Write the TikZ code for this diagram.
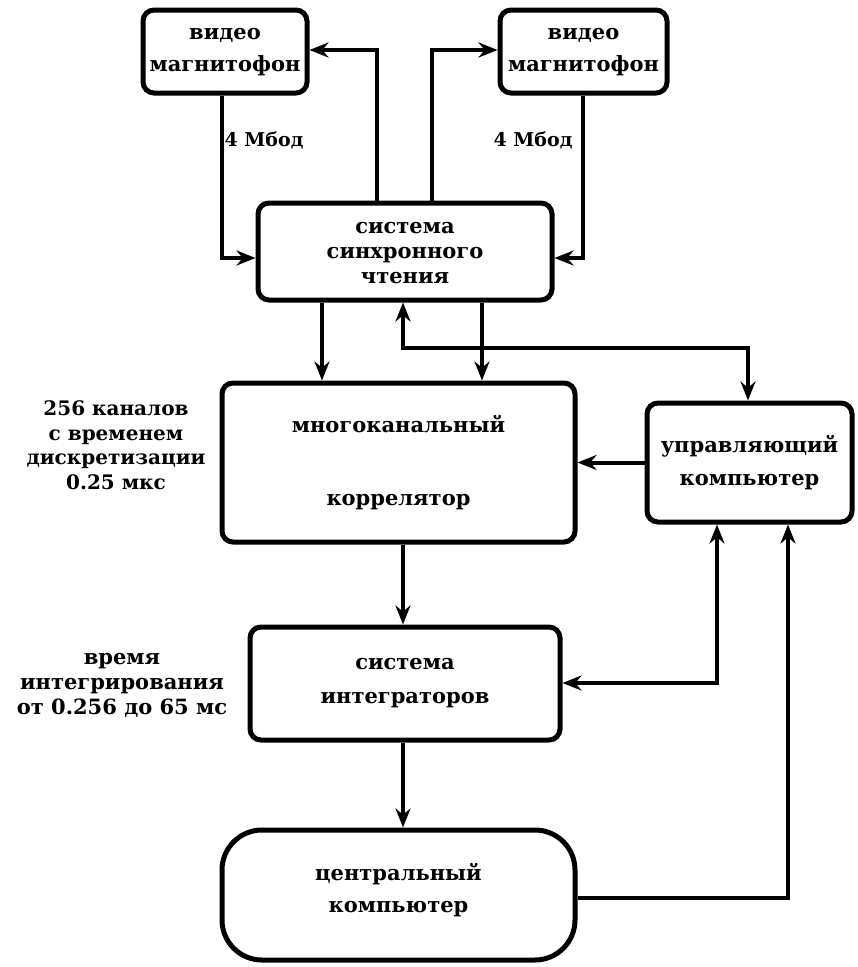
\documentclass[tikz,border=0pt]{standalone}
\usepackage{fontspec}
\setmainfont{DejaVu Serif}
\usetikzlibrary{arrows.meta}
\begin{document}
\begin{tikzpicture}[x=1pt,y=-1pt,
  txt/.style={font=\bfseries\fontsize{21}{32}\selectfont,align=center},
  box/.style={txt,draw,line width=5pt,rounded corners=11pt,inner sep=0pt},
  conn/.style={line width=4pt,-{Stealth[length=19pt,width=15pt]}},
  bconn/.style={line width=4pt,{Stealth[length=19pt,width=15pt]}-{Stealth[length=19pt,width=15pt]}}]
\useasboundingbox (0,0) rectangle (858,967);
% boxes
\node[box,minimum width=164pt,minimum height=83pt] (vcrL) at (225,51.5) {\mbox{}\\[-20pt]видео\\магнитофон};
\node[box,minimum width=167pt,minimum height=83pt] (vcrR) at (583.5,51.5) {\mbox{}\\[-20pt]видео\\магнитофон};
\node[box,minimum width=294pt,minimum height=97pt,font=\bfseries\fontsize{21}{25}\selectfont] (sync) at (405,251.5) {\mbox{}\\[-10pt]система\\синхронного\\чтения};
\node[box,minimum width=353pt,minimum height=159pt] (corr) at (398.5,462.5) {многоканальный\\[41pt]коррелятор};
\node[box,minimum width=205pt,minimum height=119pt,font=\bfseries\fontsize{21}{33}\selectfont] (ctrl) at (749.5,462.5) {управляющий\\компьютер};
\node[box,minimum width=310pt,minimum height=113pt,font=\bfseries\fontsize{21}{34}\selectfont] (integ) at (405,683.5) {система\\интеграторов};
\node[box,minimum width=353pt,minimum height=130pt,rounded corners=40pt,font=\bfseries\fontsize{21}{32}\selectfont] (central) at (398.5,895) {\mbox{}\\[-24pt]центральный\\компьютер};
% labels
\node[txt,font=\bfseries\fontsize{19}{25}\selectfont] (l1) at (264,140) {4 Мбод};
\node[txt,font=\bfseries\fontsize{19}{25}\selectfont] (l2) at (533,140) {4 Мбод};
\node[txt,font=\bfseries\fontsize{20}{24.5}\selectfont] (l3) at (116,445) {256 каналов\\с временем\\дискретизации\\0.25 мкс};
\node[txt,font=\bfseries\fontsize{21}{25}\selectfont] (l4) at (122,685) {время\\интегрирования\\от 0.256 до 65 мс};
% connector bends
\coordinate (c1) at (222,258);
\coordinate (c2) at (377,50);
\coordinate (c3) at (432,50);
\coordinate (c4) at (583,258);
\coordinate (c5) at (322,0);
\coordinate (c6) at (482,0);
\coordinate (c7) at (403,348);
\coordinate (c8) at (748,348);
\coordinate (c9) at (717,683);
\coordinate (c10) at (788,898);
% connectors
\draw[conn] (vcrL.south -| c1) -- (c1) -- (sync.west |- c1);
\draw[conn] (sync.north -| c2) -- (c2) -- (vcrL.east |- c2);
\draw[conn] (sync.north -| c3) -- (c3) -- (vcrR.west |- c3);
\draw[conn] (vcrR.south -| c4) -- (c4) -- (sync.east |- c4);
\draw[conn] (sync.south -| c5) -- (corr.north -| c5);
\draw[conn] (sync.south -| c6) -- (corr.north -| c6);
\draw[bconn] (sync.south -| c7) -- (c7) -- (c8) -- (ctrl.north -| c8);
\draw[conn] (ctrl.west) -- (corr.east |- ctrl.west);
\draw[conn] (corr.south -| c7) -- (integ.north -| c7);
\draw[bconn] (integ.east |- c9) -- (c9) -- (ctrl.south -| c9);
\draw[conn] (integ.south -| c7) -- (central.north -| c7);
\draw[conn] (central.east |- c10) -- (c10) -- (ctrl.south -| c10);
\end{tikzpicture}
\end{document}
